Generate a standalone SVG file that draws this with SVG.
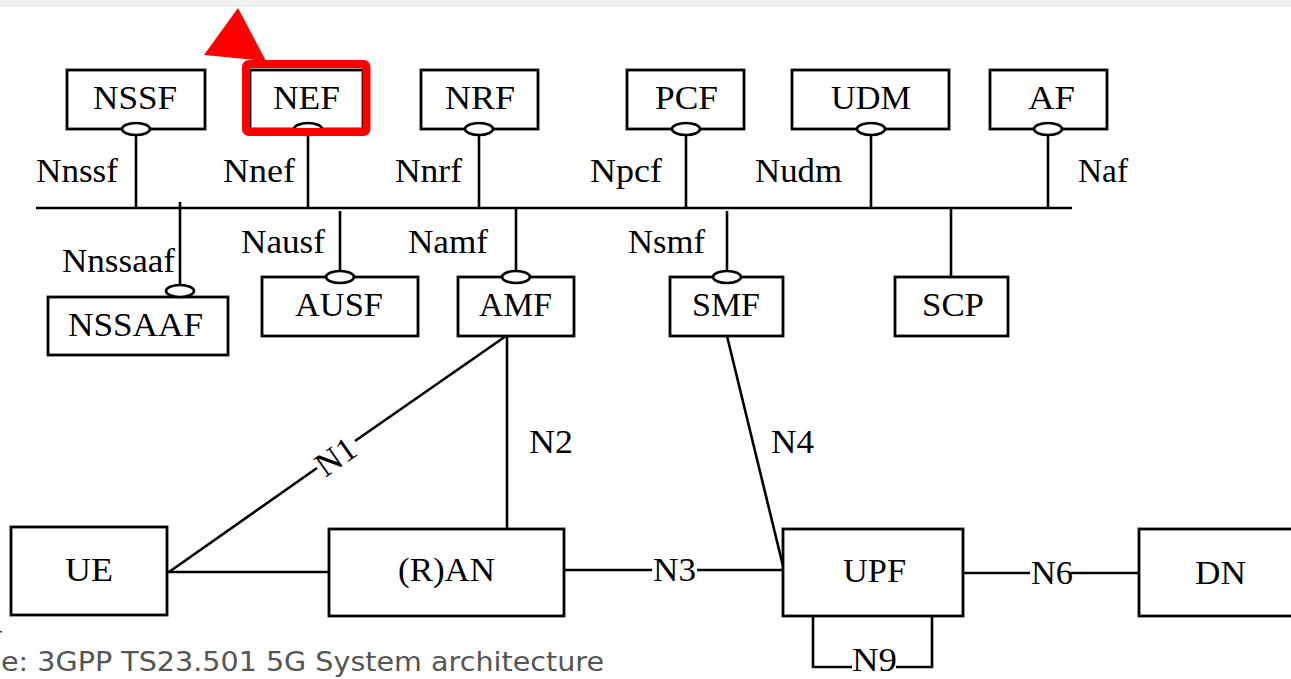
<svg xmlns="http://www.w3.org/2000/svg" width="1291" height="679" viewBox="0 0 1291 679">
<style>
.box{fill:#fff;stroke:#000;stroke-width:2.8}
.ln{fill:none;stroke:#000;stroke-width:2.6}
.pt{fill:#fff;stroke:#000;stroke-width:2.6}
.t{font-family:"Liberation Serif","Times New Roman",serif;font-size:34px;fill:#000}
.cap{font-family:"DejaVu Sans",Verdana,sans-serif;font-size:26px;fill:#555}
</style>
<rect x="0" y="0" width="1291" height="679" fill="#fff"/>
<rect x="0" y="0" width="1291" height="7" fill="#f0f0f0"/>

<g id="connectors">
  <line class="ln" x1="36" y1="208" x2="1072" y2="208"/>
  <line class="ln" x1="136" y1="135" x2="136" y2="208"/>
  <line class="ln" x1="308" y1="135" x2="308" y2="208"/>
  <line class="ln" x1="479" y1="135" x2="479" y2="208"/>
  <line class="ln" x1="686" y1="135" x2="686" y2="208"/>
  <line class="ln" x1="871" y1="135" x2="871" y2="208"/>
  <line class="ln" x1="1048" y1="135" x2="1048" y2="208"/>
  <line class="ln" x1="180" y1="202" x2="180" y2="285"/>
  <line class="ln" x1="340" y1="211" x2="340" y2="271"/>
  <line class="ln" x1="516" y1="209" x2="516" y2="271"/>
  <line class="ln" x1="727" y1="211" x2="727" y2="271"/>
  <line class="ln" x1="951" y1="208" x2="951" y2="277"/>
  <!-- N1 -->
  <line class="ln" x1="169" y1="572" x2="317" y2="468"/>
  <line class="ln" x1="355" y1="441" x2="506" y2="336"/>
  <!-- N2 -->
  <line class="ln" x1="507" y1="336" x2="507" y2="528"/>
  <!-- UE-RAN -->
  <line class="ln" x1="167" y1="572" x2="329" y2="572"/>
  <!-- N4 -->
  <line class="ln" x1="727" y1="336" x2="783" y2="566"/>
  <!-- N3 -->
  <line class="ln" x1="564" y1="570" x2="652" y2="570"/>
  <line class="ln" x1="697" y1="570" x2="783" y2="570"/>
  <!-- N6 -->
  <line class="ln" x1="963" y1="573" x2="1030" y2="573"/>
  <line class="ln" x1="1071" y1="573" x2="1139" y2="573"/>
  <!-- N9 -->
  <polyline class="ln" points="852,667 813,667 813,616"/>
  <polyline class="ln" points="896,667 932,667 932,616"/>
  <text class="t" x="336" y="457" text-anchor="middle" transform="rotate(-35 336 457)" dy="11">N1</text>
  <text class="t" x="529" y="453" textLength="44" lengthAdjust="spacingAndGlyphs">N2</text>
  <text class="t" x="771" y="453" textLength="43" lengthAdjust="spacingAndGlyphs">N4</text>
  <text class="t" x="653" y="581" textLength="43" lengthAdjust="spacingAndGlyphs">N3</text>
  <text class="t" x="1031" y="584" textLength="42" lengthAdjust="spacingAndGlyphs">N6</text>
  <text class="t" x="852" y="671" textLength="45" lengthAdjust="spacingAndGlyphs">N9</text>
  <text class="t" x="36" y="182" textLength="82" lengthAdjust="spacingAndGlyphs">Nnssf</text>
  <text class="t" x="223" y="182" textLength="72" lengthAdjust="spacingAndGlyphs">Nnef</text>
  <text class="t" x="395" y="182" textLength="67" lengthAdjust="spacingAndGlyphs">Nnrf</text>
  <text class="t" x="590" y="182" textLength="72" lengthAdjust="spacingAndGlyphs">Npcf</text>
  <text class="t" x="755" y="182" textLength="87" lengthAdjust="spacingAndGlyphs">Nudm</text>
  <text class="t" x="1078" y="182" textLength="50" lengthAdjust="spacingAndGlyphs">Naf</text>
  <text class="t" x="62" y="272" textLength="113" lengthAdjust="spacingAndGlyphs">Nnssaaf</text>
  <text class="t" x="241" y="253" textLength="84" lengthAdjust="spacingAndGlyphs">Nausf</text>
  <text class="t" x="408" y="253" textLength="80" lengthAdjust="spacingAndGlyphs">Namf</text>
  <text class="t" x="628" y="253" textLength="77" lengthAdjust="spacingAndGlyphs">Nsmf</text>
</g>

<g id="NSSF"><rect class="box" x="67" y="70" width="138" height="59"/><ellipse class="pt" cx="136" cy="129" rx="14" ry="6"/><text class="t" x="93" y="109" textLength="84" lengthAdjust="spacingAndGlyphs">NSSF</text></g>
<g id="NEF"><rect class="box" x="250" y="70" width="113" height="59"/><ellipse class="pt" cx="308" cy="129" rx="14" ry="6"/><text class="t" x="273" y="109" textLength="67" lengthAdjust="spacingAndGlyphs">NEF</text></g>
<g id="NRF"><rect class="box" x="421" y="70" width="117" height="59"/><ellipse class="pt" cx="479" cy="129" rx="14" ry="6"/><text class="t" x="445" y="109" textLength="70" lengthAdjust="spacingAndGlyphs">NRF</text></g>
<g id="PCF"><rect class="box" x="627" y="70" width="117" height="59"/><ellipse class="pt" cx="686" cy="129" rx="14" ry="6"/><text class="t" x="655" y="109" textLength="63" lengthAdjust="spacingAndGlyphs">PCF</text></g>
<g id="UDM"><rect class="box" x="792" y="70" width="157" height="59"/><ellipse class="pt" cx="871" cy="129" rx="14" ry="6"/><text class="t" x="831" y="109" textLength="80" lengthAdjust="spacingAndGlyphs">UDM</text></g>
<g id="AF"><rect class="box" x="990" y="70" width="117" height="59"/><ellipse class="pt" cx="1048" cy="129" rx="14" ry="6"/><text class="t" x="1028" y="109" textLength="47" lengthAdjust="spacingAndGlyphs">AF</text></g>

<g id="NSSAAF"><rect class="box" x="48" y="297" width="180" height="58"/><ellipse class="pt" cx="180" cy="291" rx="14" ry="6"/><text class="t" x="68" y="336" textLength="135" lengthAdjust="spacingAndGlyphs">NSSAAF</text></g>
<g id="AUSF"><rect class="box" x="262" y="277" width="156" height="59"/><ellipse class="pt" cx="340" cy="277" rx="14" ry="6"/><text class="t" x="295" y="316" textLength="88" lengthAdjust="spacingAndGlyphs">AUSF</text></g>
<g id="AMF"><rect class="box" x="458" y="277" width="116" height="59"/><ellipse class="pt" cx="516" cy="277" rx="14" ry="6"/><text class="t" x="479" y="316" textLength="73" lengthAdjust="spacingAndGlyphs">AMF</text></g>
<g id="SMF"><rect class="box" x="670" y="277" width="113" height="59"/><ellipse class="pt" cx="727" cy="277" rx="14" ry="6"/><text class="t" x="692" y="316" textLength="68" lengthAdjust="spacingAndGlyphs">SMF</text></g>
<g id="SCP"><rect class="box" x="895" y="277" width="113" height="59"/><text class="t" x="922" y="316" textLength="62" lengthAdjust="spacingAndGlyphs">SCP</text></g>

<g id="UE"><rect class="box" x="11" y="527" width="156" height="88"/><text class="t" x="65" y="581" textLength="48" lengthAdjust="spacingAndGlyphs">UE</text></g>
<g id="RAN"><rect class="box" x="329" y="529" width="235" height="87"/><text class="t" x="398" y="581" textLength="97" lengthAdjust="spacingAndGlyphs">(R)AN</text></g>
<g id="UPF"><rect class="box" x="783" y="529" width="180" height="87"/><text class="t" x="843" y="582" textLength="63" lengthAdjust="spacingAndGlyphs">UPF</text></g>
<g id="DN"><rect class="box" x="1139" y="529" width="170" height="87"/><text class="t" x="1195" y="584" textLength="51" lengthAdjust="spacingAndGlyphs">DN</text></g>

<g id="highlight">
  <rect x="246" y="64" width="120.5" height="68" rx="3" fill="none" stroke="#ff0000" stroke-width="8"/>
  <polygon points="238,8 204,55 266,61" fill="#ff0000"/>
</g>

<g id="caption">
  <rect x="0" y="631" width="2" height="1.5" fill="#1a3a8a"/>
  <text class="cap" x="1" y="671" textLength="603" lengthAdjust="spacingAndGlyphs">e: 3GPP TS23.501 5G System architecture</text>
</g>
</svg>
